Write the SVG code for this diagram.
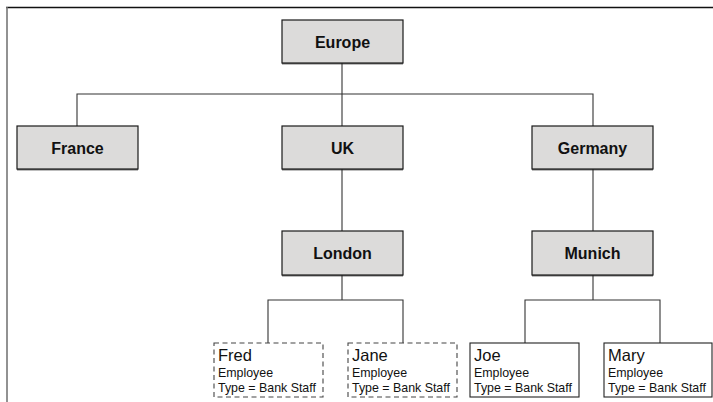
<svg xmlns="http://www.w3.org/2000/svg" width="713" height="402" viewBox="0 0 713 402">
  <style>
    .org rect { fill: #dcdbda; stroke: #1a1a1a; stroke-width: 1.2; }
    .org .base { stroke: #222; stroke-width: 1; }
    .org text { font-family: "Liberation Sans", Arial, sans-serif; font-weight: bold; font-size: 16px; fill: #111; text-anchor: middle; }
    .leaf rect { fill: #fff; stroke: #222; stroke-width: 1.1; }
    .leaf.dashed rect { stroke-dasharray: 5 3.5; stroke: #444; }
    .leaf text { font-family: "Liberation Sans", Arial, sans-serif; fill: #111; }
    .leaf .name { font-size: 16.5px; }
    .leaf .attr { font-size: 12.4px; }
    .links line, .links polyline { stroke: #333; stroke-width: 1.1; fill: none; }
  </style>

  <!-- frame -->
  <line x1="6" y1="7.5" x2="713" y2="7.5" stroke="#111" stroke-width="1.5"/>
  <line x1="7" y1="7" x2="7" y2="402" stroke="#777" stroke-width="1.6"/>

  <!-- connectors -->
  <g class="links">
    <line x1="342" y1="63" x2="342" y2="126"/>
    <polyline points="77,126 77,94 593,94 593,126"/>
    <line x1="342" y1="169" x2="342" y2="231"/>
    <line x1="593" y1="169" x2="593" y2="231"/>
    <line x1="342" y1="275" x2="342" y2="300"/>
    <polyline points="268,343 268,300 403,300 403,343"/>
    <line x1="593" y1="275" x2="593" y2="300"/>
    <polyline points="525,343 525,300 660,300 660,343"/>
  </g>

  <g id="europe" class="org"><rect x="282" y="20" width="121" height="43"/><line class="base" x1="282" y1="63.8" x2="403" y2="63.8"/><text x="342.5" y="47.5">Europe</text></g>
  <g id="france" class="org"><rect x="17" y="126" width="121" height="43"/><line class="base" x1="17" y1="169.8" x2="138" y2="169.8"/><text x="77.5" y="153.5">France</text></g>
  <g id="uk" class="org"><rect x="282" y="126" width="121" height="43"/><line class="base" x1="282" y1="169.8" x2="403" y2="169.8"/><text x="342.5" y="153.5">UK</text></g>
  <g id="germany" class="org"><rect x="532" y="126" width="121" height="43"/><line class="base" x1="532" y1="169.8" x2="653" y2="169.8"/><text x="592.5" y="153.5">Germany</text></g>
  <g id="london" class="org"><rect x="282" y="231" width="121" height="44"/><line class="base" x1="282" y1="275.8" x2="403" y2="275.8"/><text x="342.5" y="258.5">London</text></g>
  <g id="munich" class="org"><rect x="532" y="231" width="121" height="44"/><line class="base" x1="532" y1="275.8" x2="653" y2="275.8"/><text x="592.5" y="258.5">Munich</text></g>

  <g id="fred" class="leaf dashed">
    <rect x="214" y="343" width="109" height="54"/>
    <text class="name" x="218" y="361">Fred</text>
    <text class="attr" x="218" y="377">Employee</text>
    <text class="attr" x="218" y="391.5">Type = Bank Staff</text>
  </g>
  <g id="jane" class="leaf dashed">
    <rect x="348" y="343" width="109" height="54"/>
    <text class="name" x="352" y="361">Jane</text>
    <text class="attr" x="352" y="377">Employee</text>
    <text class="attr" x="352" y="391.5">Type = Bank Staff</text>
  </g>
  <g id="joe" class="leaf">
    <rect x="470" y="343" width="109" height="54"/>
    <text class="name" x="474" y="361">Joe</text>
    <text class="attr" x="474" y="377">Employee</text>
    <text class="attr" x="474" y="391.5">Type = Bank Staff</text>
  </g>
  <g id="mary" class="leaf">
    <rect x="604" y="343" width="108" height="54"/>
    <text class="name" x="608" y="361">Mary</text>
    <text class="attr" x="608" y="377">Employee</text>
    <text class="attr" x="608" y="391.5">Type = Bank Staff</text>
  </g>
</svg>
